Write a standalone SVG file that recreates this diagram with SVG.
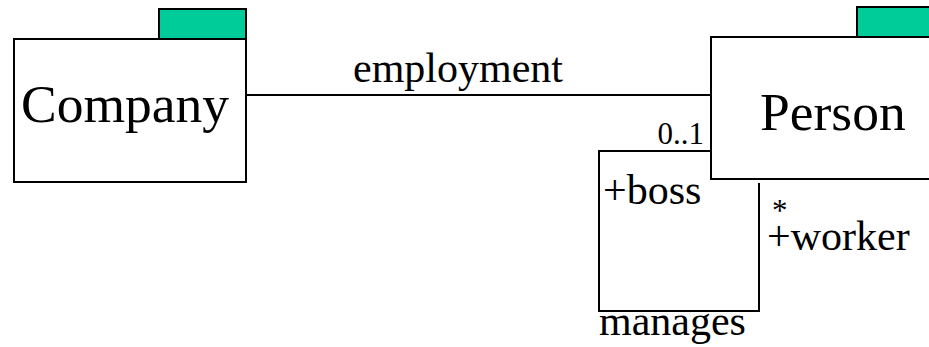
<svg xmlns="http://www.w3.org/2000/svg" width="929" height="347" viewBox="0 0 929 347">
  <style>
    .box { fill: #ffffff; stroke: #000000; stroke-width: 2; }
    .tab { fill: #00cc99; stroke: #000000; stroke-width: 2; }
    .edge { fill: none; stroke: #000000; stroke-width: 2; }
    .name { font-size: 53.5px; }
    .label { font-size: 42px; }
    .mult { font-size: 31px; }
  </style>
  <rect x="0" y="0" width="929" height="347" fill="#ffffff"/>

  <g font-family="Liberation Serif, DejaVu Serif, serif" fill="#000000">
    <!-- associations -->
    <g id="connectors">
      <line class="edge" x1="246" y1="95" x2="711" y2="95"/>
      <polyline class="edge" points="711,151 599,151 599,311 759,311 759,183"/>
      <text class="label" x="353" y="82">employment</text>
      <text class="mult" x="704" y="144" text-anchor="end">0..1</text>
      <text class="label" x="603" y="204">+boss</text>
      <text class="mult" x="772" y="221">*</text>
      <text class="label" x="767" y="250">+worker</text>
      <text class="label" x="599" y="335">manages</text>
    </g>

    <!-- Company package -->
    <g id="company">
      <rect class="tab" x="159" y="9" width="87" height="30"/>
      <rect class="box" x="14" y="39" width="232" height="143"/>
      <text class="name" x="21" y="122">Company</text>
    </g>

    <!-- Person package -->
    <g id="person">
      <rect class="tab" x="857" y="7" width="90" height="30"/>
      <rect class="box" x="711" y="37" width="240" height="142"/>
      <text class="name" x="760" y="130">Person</text>
    </g>
  </g>
</svg>
